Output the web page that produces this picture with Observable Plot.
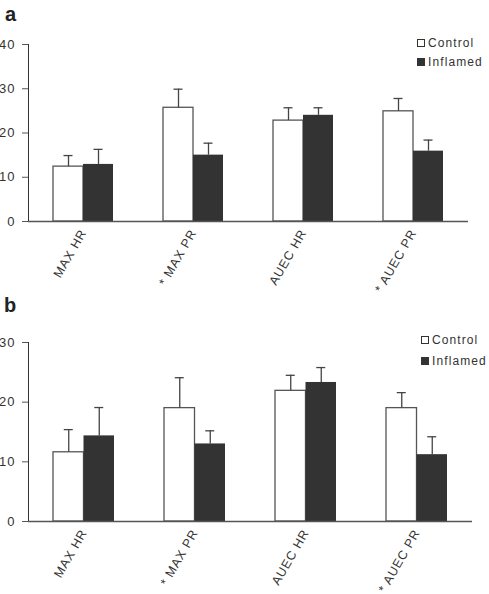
<!DOCTYPE html>
<html>
<head>
<meta charset="utf-8">
<script src="https://cdn.jsdelivr.net/npm/d3@7"></script>
<script src="https://cdn.jsdelivr.net/npm/@observablehq/plot@0.6"></script>
<style>
  body { margin: 0; background: #fff; }
  #wrap { position: relative; width: 489px; height: 594px; overflow: hidden; font-family: "Liberation Sans", Arial, sans-serif; color: #333; }
  .panel { position: absolute; left: 0; width: 489px; height: 297px; }
  .panel svg { position: absolute; left: 0; top: 0; overflow: visible; }
  .tag { position: absolute; font-weight: bold; font-size: 20px; line-height: 1; color: #222; }
  .leg { position: absolute; display: flex; align-items: center; font-size: 12px; letter-spacing: 1.1px; line-height: 12px; color: #333; white-space: nowrap; }
  .leg .sw { width: 8px; height: 8px; box-sizing: border-box; border: 1px solid #333; margin-right: 3px; }
</style>
</head>
<body>
<div id="wrap">
  <div class="panel" id="pa" style="top:0">
    <div class="tag" style="left:5px;top:4px">a</div>
    <div class="leg" style="left:417px;top:37px"><div class="sw" style="background:#fff"></div>Control</div>
    <div class="leg" style="left:417px;top:56px"><div class="sw" style="background:#333"></div>Inflamed</div>
  </div>
  <div class="panel" id="pb" style="top:297px">
    <div class="tag" style="left:4px;top:-2px">b</div>
    <div class="leg" style="left:421px;top:37px"><div class="sw" style="background:#fff"></div>Control</div>
    <div class="leg" style="left:421px;top:58px"><div class="sw" style="background:#333"></div>Inflamed</div>
  </div>
</div>
<script>
const categories = ["MAX HR", "* MAX PR", "AUEC HR", "* AUEC PR"];
const groups = ["Control", "Inflamed"];

// Panel a
const aControl = [12.4, 25.7, 22.8, 24.9];
const aControlErr = [2.5, 4.2, 2.9, 2.9];
const aInflamed = [12.9, 15.0, 24.0, 15.9];
const aInflamedErr = [3.4, 2.7, 1.7, 2.5];
const aTicks = [0, 10, 20, 30, 40];

// Panel b
const bControl = [11.6, 19.0, 21.9, 19.0];
const bControlErr = [3.8, 5.1, 2.6, 2.6];
const bInflamed = [14.35, 13.0, 23.3, 11.2];
const bInflamedErr = [4.75, 2.2, 2.5, 3.0];
const bTicks = [0, 10, 20, 30];

function rows(vals, errs, group) {
  return categories.map((c, i) => ({cat: c, group, value: vals[i], top: vals[i] + errs[i]}));
}

function panel({ctrl, ctrlErr, infl, inflErr, ticks, yMax, marginTop, marginBottom, marginRight, paddingInner, bw}) {
  const c = rows(ctrl, ctrlErr, "Control");
  const f = rows(infl, inflErr, "Inflamed");
  const half = bw / 2;
  const capHalf = 4.5;
  return Plot.plot({
    width: 489,
    height: 297,
    marginLeft: 28,
    marginRight,
    marginTop,
    marginBottom,
    style: {fontFamily: "'Liberation Sans', Arial, sans-serif", fontSize: "12.5px", color: "#333", background: "transparent"},
    x: {domain: categories, paddingInner, paddingOuter: paddingInner / 2, label: null, tickSize: 0, tickPadding: 9, tickRotate: -60},
    y: {domain: [0, yMax], ticks, label: null, tickSize: 6, tickPadding: 7, line: true},
    marks: [
      Plot.barY(c, {x: "cat", y: "value", insetRight: half, fill: "#fff", stroke: "#555", strokeWidth: 1.3}),
      Plot.barY(f, {x: "cat", y: "value", insetLeft: half, fill: "#333"}),
      Plot.ruleX(c, {x: "cat", y1: "value", y2: "top", dx: -bw / 4, stroke: "#444", strokeWidth: 1.3}),
      Plot.ruleX(f, {x: "cat", y1: "value", y2: "top", dx: bw / 4, stroke: "#444", strokeWidth: 1.3}),
      Plot.tickY(c, {x: "cat", y: "top", insetLeft: bw / 4 - capHalf, insetRight: bw * 3 / 4 - capHalf, stroke: "#444", strokeWidth: 1.3}),
      Plot.tickY(f, {x: "cat", y: "top", insetLeft: bw * 3 / 4 - capHalf, insetRight: bw / 4 - capHalf, stroke: "#444", strokeWidth: 1.3}),
      Plot.ruleY([0], {stroke: "#555", strokeWidth: 1.3})
    ]
  });
}

const svgA = panel({ctrl: aControl, ctrlErr: aControlErr, infl: aInflamed, inflErr: aInflamedErr, ticks: aTicks, yMax: 40, marginTop: 44, marginBottom: 76, marginRight: 21, paddingInner: 0.4545, bw: 60});
const svgB = panel({ctrl: bControl, ctrlErr: bControlErr, infl: bInflamed, inflErr: bInflamedErr, ticks: bTicks, yMax: 30, marginTop: 45, marginBottom: 73, marginRight: 17, paddingInner: 0.45, bw: 61});

for (const s of [svgA, svgB]) {
  s.querySelectorAll("[aria-label='x-axis tick label']").forEach(t => t.setAttribute("letter-spacing", "0.8"));
  s.querySelectorAll("[aria-label='y-axis tick label']").forEach(t => { t.setAttribute("letter-spacing", "1"); t.setAttribute("font-size", "13"); });
  s.querySelectorAll("[aria-label='y-axis tick'], [aria-label='y-axis line']").forEach(t => t.setAttribute("stroke", "#555"));
}
document.getElementById("pa").prepend(svgA);
document.getElementById("pb").prepend(svgB);
</script>
</body>
</html>
